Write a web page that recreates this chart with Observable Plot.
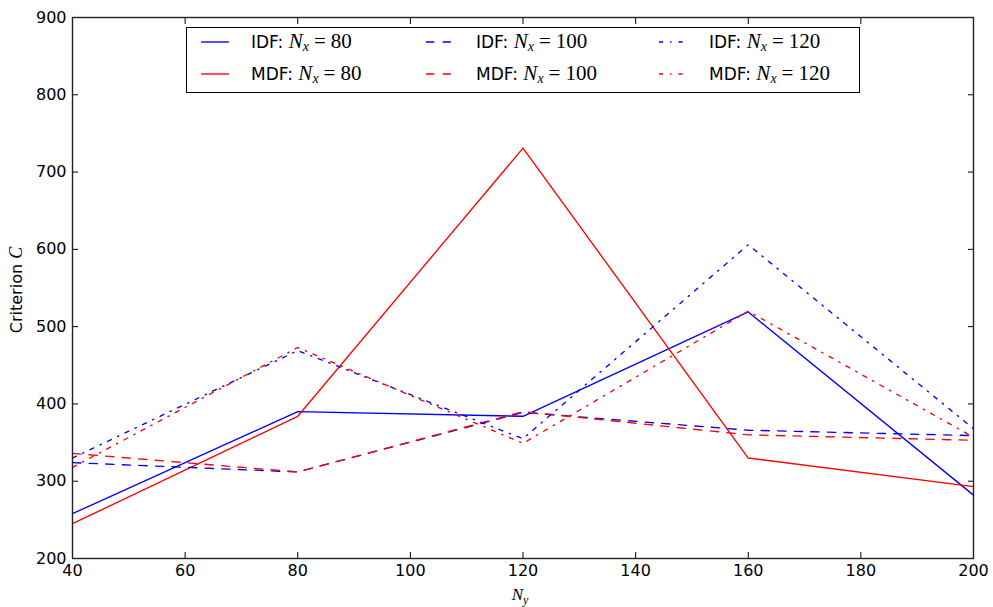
<!DOCTYPE html>
<html>
<head>
<meta charset="utf-8">
<script src="https://cdn.jsdelivr.net/npm/d3@7"></script>
<script src="https://cdn.jsdelivr.net/npm/@observablehq/plot@0.6"></script>
<style>
  html, body { margin: 0; padding: 0; background: #fff; }
  #wrap { position: relative; width: 993px; height: 607px; }
  .math { font-family: "Liberation Serif", serif; }
  .legend { position: absolute; left: 186px; top: 27px; width: 672px; height: 64px;
    border: 1px solid #000; background: #fff; font-family: "DejaVu Sans", sans-serif; font-size: 17px; }
  .item { position: absolute; display: flex; align-items: center; white-space: nowrap; }
  .item svg { margin-right: 22px; }
</style>
</head>
<body>
<div id="wrap"></div>
<script>
const Ny = [40, 80, 120, 160, 200];
const idf80  = [258, 390, 384, 519, 282];
const mdf80  = [245, 384, 731, 330, 293];
const idf100 = [324, 312, 389, 366, 359];
const mdf100 = [336, 312, 390, 360, 353];
const idf120 = [330, 469, 355, 606, 368];
const mdf120 = [318, 473, 349, 520, 357];
const xTicks = [40, 60, 80, 100, 120, 140, 160, 180, 200];
const yTicks = [200, 300, 400, 500, 600, 700, 800, 900];

const DASHED = "8.3,8.3";
const DASHDOT = "4.2,6.9,1.4,6.9";
const seriesDefs = [
  {method: "IDF", nx: 80,  values: idf80,  color: "#0000ff", dash: null},
  {method: "MDF", nx: 80,  values: mdf80,  color: "#ff0000", dash: null},
  {method: "IDF", nx: 100, values: idf100, color: "#0000ff", dash: DASHED},
  {method: "MDF", nx: 100, values: mdf100, color: "#ff0000", dash: DASHED},
  {method: "IDF", nx: 120, values: idf120, color: "#0000ff", dash: DASHDOT},
  {method: "MDF", nx: 120, values: mdf120, color: "#ff0000", dash: DASHDOT}
];

const lineMarks = seriesDefs.map(s =>
  Plot.line(Ny.map((x, i) => ({x, y: s.values[i]})), {
    x: "x", y: "y", stroke: s.color, strokeWidth: 1.35,
    strokeDasharray: s.dash || undefined
  })
);

const chart = Plot.plot({
  width: 993,
  height: 607,
  marginLeft: 72,
  marginRight: 20,
  marginTop: 17,
  marginBottom: 49,
  style: {fontFamily: "DejaVu Sans, sans-serif", fontSize: "16px", color: "#000", background: "#fff"},
  x: {domain: [40, 200], label: null},
  y: {domain: [200, 900], label: null},
  marks: [
    ...lineMarks,
    Plot.axisX(xTicks, {anchor: "bottom", tickSize: 0, tickPadding: 6, fontSize: 16, label: null}),
    Plot.axisY(yTicks, {anchor: "left", tickSize: 0, tickPadding: 6, fontSize: 16, label: null}),
    Plot.axisX(xTicks, {anchor: "bottom", tickSize: -6, text: null, label: null}),
    Plot.axisX(xTicks, {anchor: "top", tickSize: -6, text: null, label: null}),
    Plot.axisY(yTicks, {anchor: "left", tickSize: -6, text: null, label: null}),
    Plot.axisY(yTicks, {anchor: "right", tickSize: -6, text: null, label: null}),
    Plot.frame({stroke: "#222", strokeWidth: 1.4})
  ]
});

const wrap = document.getElementById("wrap");
wrap.appendChild(chart);

const svg = d3.select(chart);
// x label N_y
const xl = svg.append("text").attr("x", 520).attr("y", 600).attr("text-anchor", "middle")
  .attr("font-size", 17).attr("class", "math");
xl.append("tspan").attr("font-style", "italic").text("N");
xl.append("tspan").attr("font-style", "italic").attr("font-size", 12).attr("dy", 4).text("y");
// y label
const yl = svg.append("text").attr("transform", "translate(22,290) rotate(-90)")
  .attr("text-anchor", "middle").attr("font-size", 16);
yl.append("tspan").attr("font-family", "DejaVu Sans, sans-serif").text("Criterion ");
yl.append("tspan").attr("font-family", "Liberation Serif, serif").attr("font-style", "italic").attr("font-size", 18).text("C");

// legend
const legend = document.createElement("div");
legend.className = "legend";
wrap.appendChild(legend);
const colX = [14, 239, 472];
const rowY = [14, 46];
seriesDefs.forEach((s, i) => {
  const col = Math.floor(i / 2), row = i % 2;
  const item = document.createElement("div");
  item.className = "item";
  item.style.left = colX[col] + "px";
  item.style.top = (rowY[row] - 12) + "px";
  item.style.height = "24px";
  const dash = s.dash ? ` stroke-dasharray="${s.dash}"` : "";
  item.innerHTML =
    `<svg width="28" height="10"><line x1="0" y1="5" x2="28" y2="5" stroke="${s.color}" stroke-width="1.35"${dash}/></svg>` +
    `<span>${s.method}: <span class="math" style="font-size:21px"><i>N</i><sub style="font-size:14px;vertical-align:-3px"><i>x</i></sub><span style="margin:0 5px">=</span>${s.nx}</span></span>`;
  legend.appendChild(item);
});
</script>
</body>
</html>
